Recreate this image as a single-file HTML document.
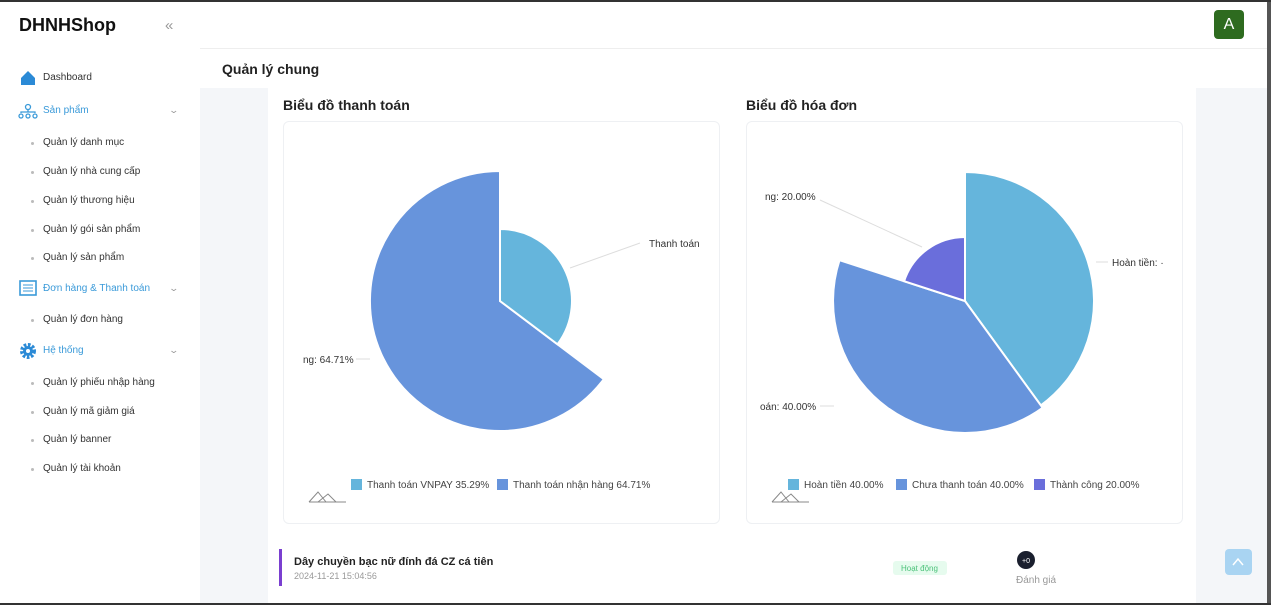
<!DOCTYPE html>
<html><head><meta charset="utf-8"><style>
*{margin:0;padding:0;box-sizing:border-box}
body{width:1271px;height:605px;overflow:hidden;font-family:"Liberation Sans","Noto Sans CJK SC",sans-serif;background:#f4f6f9;position:relative;color:#222}
.top{position:absolute;left:0;top:0;width:1271px;height:2px;background:#333}
.bot{position:absolute;left:0;bottom:0;width:1271px;height:2px;background:#333}
.side{position:absolute;left:0;top:2px;width:200px;height:601px;background:#fff}
.logo{position:absolute;left:19px;top:13px;font-size:18px;font-weight:bold;color:#111}
.coll{position:absolute;left:165px;top:15px;color:#999;font-size:15px}
.mi{position:absolute;left:43px;font-size:10px;color:#333}
.grp{position:absolute;left:43px;font-size:10px;color:#3a9ad9}
.dot{position:absolute;left:31px;width:3px;height:3px;border-radius:50%;background:#bbb}
.chev{position:absolute;left:170px;font-size:9px;color:#999;transform:scaleX(1.4)}
.hdr{position:absolute;left:200px;top:2px;width:1067px;height:47px;background:#fff;border-bottom:1px solid #eee}
.av{position:absolute;left:1214px;top:10px;width:30px;height:29px;background:#2e6b1f;border-radius:4px;color:#fff;font-size:16px;text-align:center;line-height:29px}
.tab{position:absolute;left:200px;top:49px;width:1067px;height:39px;background:#fff}
.tab span{position:absolute;left:22px;top:12px;font-size:14px;font-weight:bold}
.content{position:absolute;left:268px;top:88px;width:928px;height:515px;background:#fff}
.rs{position:absolute;left:1267px;top:2px;width:4px;height:601px;background:#555}
.card{position:absolute;top:121px;width:437px;height:403px;border:1px solid #eef0f3;border-radius:6px;background:#fff}
.ttl{position:absolute;top:97px;font-size:14px;font-weight:bold;color:#222}
svg{position:absolute;left:0;top:0}
</style></head><body>
<div class="side">
<div class="logo">DHNHShop</div><div class="coll">«</div>
<svg width="200" height="480">
<path d="M21 78 L28 71 L35 78 L35 85 L21 85 Z" fill="#2b8ad6" transform="translate(0,-2)"/>
<g stroke="#3a9ad9" fill="none" stroke-width="1.3"><circle cx="28" cy="105" r="2.5"/><circle cx="21" cy="114" r="2"/><circle cx="28" cy="114" r="2"/><circle cx="35" cy="114" r="2"/><path d="M28 107v3M21 111v-1h14v1"/></g>
<rect x="20" y="279" width="16" height="14" fill="none" stroke="#3a9ad9" stroke-width="1.6"/><path d="M23 283h10M23 286h10M23 289h10" stroke="#3a9ad9"/>
<circle cx="28" cy="349" r="6" fill="none" stroke="#2b8ad6" stroke-width="4" stroke-dasharray="2.5 1.5"/><circle cx="28" cy="349" r="5" fill="#2b8ad6"/><circle cx="28" cy="349" r="2" fill="#fff"/>
</svg>
<div class="mi" style="top:70px">Dashboard</div>
<div class="grp" style="top:103px">Sản phẩm</div><div class="chev" style="top:103px">⌄</div>
<div class="dot" style="top:140px"></div><div class="mi" style="top:135px">Quản lý danh mục</div>
<div class="dot" style="top:169px"></div><div class="mi" style="top:164px">Quản lý nhà cung cấp</div>
<div class="dot" style="top:198px"></div><div class="mi" style="top:193px">Quản lý thương hiệu</div>
<div class="dot" style="top:227px"></div><div class="mi" style="top:222px">Quản lý gói sản phẩm</div>
<div class="dot" style="top:255px"></div><div class="mi" style="top:250px">Quản lý sản phẩm</div>
<div class="grp" style="top:281px">Đơn hàng &amp; Thanh toán</div><div class="chev" style="top:281px">⌄</div>
<div class="dot" style="top:317px"></div><div class="mi" style="top:312px">Quản lý đơn hàng</div>
<div class="grp" style="top:343px">Hệ thống</div><div class="chev" style="top:343px">⌄</div>
<div class="dot" style="top:380px"></div><div class="mi" style="top:375px">Quản lý phiếu nhập hàng</div>
<div class="dot" style="top:409px"></div><div class="mi" style="top:404px">Quản lý mã giảm giá</div>
<div class="dot" style="top:437px"></div><div class="mi" style="top:432px">Quản lý banner</div>
<div class="dot" style="top:466px"></div><div class="mi" style="top:461px">Quản lý tài khoản</div>
</div>
<div class="hdr"></div><div class="av">A</div>
<div class="tab"><span>Quản lý chung</span></div>
<div class="content"></div>
<div class="card" style="left:283px"></div>
<div class="card" style="left:746px"></div>
<div class="ttl" style="left:283px">Biểu đồ thanh toán</div>
<div class="ttl" style="left:746px">Biểu đồ hóa đơn</div>
<svg width="1271" height="605" font-family="Liberation Sans, sans-serif" font-size="10">
<g stroke="#fff" stroke-width="2">
<path d="M500 301 L603.8 379.2 A130 130 0 1 1 500 171 Z" fill="#6794dc"/>
<path d="M500 301 L500 229 A72 72 0 0 1 557.5 344.3 Z" fill="#65b5dc"/>
<path d="M965 301 L965 172 A129 129 0 0 1 1040.8 405.4 Z" fill="#65b5dc"/>
<path d="M965 301 L1042.6 407.8 A132 132 0 0 1 839.5 260.2 Z" fill="#6794dc"/>
<path d="M965 301 L904.1 281.2 A64 64 0 0 1 965 237 Z" fill="#6a6edb"/>
</g>
<g stroke="#ddd" fill="none">
<path d="M570 268 L640 243"/><path d="M356 359 L370 359"/>
<path d="M922 247 L820 200"/><path d="M1096 262 L1108 262"/><path d="M820 406 L834 406"/>
</g>
<g fill="#333">
<text x="649" y="247">Thanh toán</text>
<text x="303" y="363">ng: 64.71%</text>
<text x="765" y="200">ng: 20.00%</text>
<text x="1112" y="266">Hoàn tiền: ·</text>
<text x="760" y="410">oán: 40.00%</text>
</g>
<g font-size="10" fill="#444">
<rect x="351" y="479" width="11" height="11" fill="#65b5dc"/><text x="367" y="488">Thanh toán VNPAY 35.29%</text>
<rect x="497" y="479" width="11" height="11" fill="#6794dc"/><text x="513" y="488">Thanh toán nhận hàng 64.71%</text>
<rect x="788" y="479" width="11" height="11" fill="#65b5dc"/><text x="804" y="488">Hoàn tiền 40.00%</text>
<rect x="896" y="479" width="11" height="11" fill="#6794dc"/><text x="912" y="488">Chưa thanh toán 40.00%</text>
<rect x="1034" y="479" width="11" height="11" fill="#6a6edb"/><text x="1050" y="488">Thành công 20.00%</text>
</g>
<g fill="none" stroke="#888"><path d="M309 502 L318 492 L326 502 M318 502 L328 494 L336 502 M309 502 H346"/>
<path d="M772 502 L781 492 L789 502 M781 502 L791 494 L799 502 M772 502 H809"/></g>
<rect x="279" y="549" width="3" height="37" fill="#7a3fd0"/>
<text x="294" y="565" font-size="11" font-weight="bold" fill="#222">Dây chuyền bạc nữ đính đá CZ cá tiên</text>
<text x="294" y="579" font-size="9" fill="#999">2024-11-21 15:04:56</text>
<rect x="893" y="561" width="54" height="14" rx="3" fill="#e6fbee"/>
<text x="901" y="571" font-size="8" fill="#4cc27a">Hoạt động</text>
<circle cx="1026" cy="560" r="9" fill="#1a1f2e"/><text x="1026" y="563" font-size="7" fill="#fff" text-anchor="middle">+0</text>
<text x="1016" y="583" font-size="10" fill="#999">Đánh giá</text>
<rect x="1225" y="549" width="27" height="26" rx="4" fill="#a9d4f2"/>
<path d="M1233 565 L1238 559 L1243 565" stroke="#fff" stroke-width="1.5" fill="none"/>
</svg>
<div class="rs"></div>
<div class="top"></div><div class="bot"></div>
</body></html>
